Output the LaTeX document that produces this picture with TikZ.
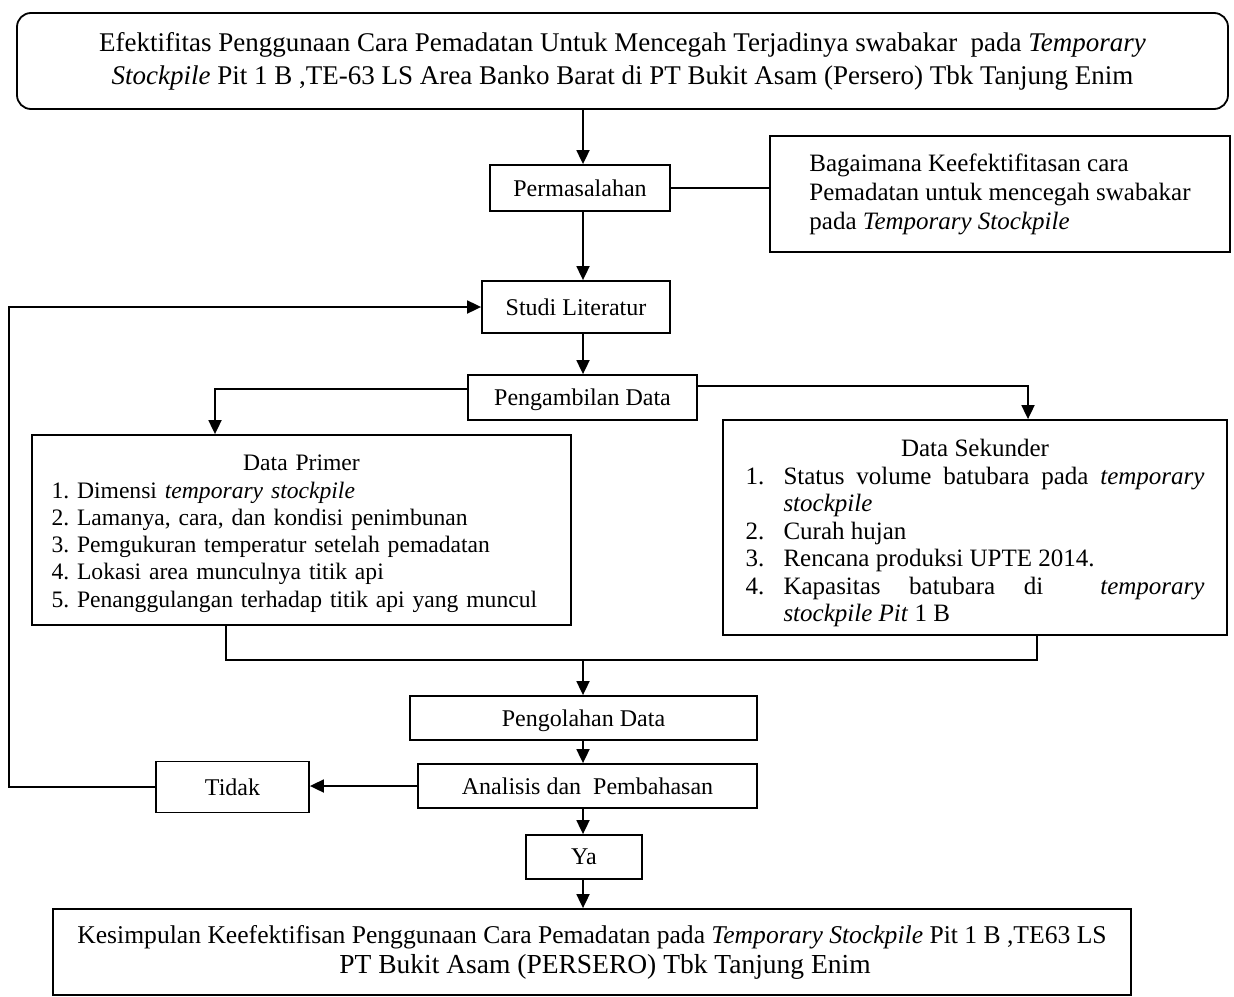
\documentclass[tikz,border=0pt]{standalone}
\usepackage{fontspec}
\setmainfont{Liberation Serif}
\usetikzlibrary{arrows.meta,positioning}
\frenchspacing

\newcommand{\butir}[1]{\par\hangindent=38pt\hangafter=1\noindent\makebox[38pt][l]{#1}}

\tikzset{
  box/.style={draw, line width=1.8pt, inner sep=0pt, font=\fontsize{24}{27.5}\selectfont},
  arr/.style={line width=1.8pt, -{Triangle[length=14pt,width=13pt]}},
  link/.style={line width=1.8pt},
}

\begin{document}
\begin{tikzpicture}[x=1pt,y=-1pt]
\useasboundingbox (0,0) rectangle (1234,996);
\fill[white] (0,0) rectangle (1234,996);

% boxes
\node[box, rounded corners=14pt, minimum width=1211pt, minimum height=96pt, align=center,
      font=\fontsize{27}{33}\selectfont] (judul) at (622.5,61)
  {Efektifitas Penggunaan Cara Pemadatan Untuk Mencegah Terjadinya swabakar\ \ pada \textit{Temporary}\\
   \textit{Stockpile} Pit 1 B ,TE-63 LS Area Banko Barat di PT Bukit Asam (Persero) Tbk Tanjung Enim};
\node[box, minimum width=180pt, minimum height=46pt] (masalah) at (580,188) {Permasalahan};
\node[box, minimum width=460pt, minimum height=116pt, align=left,
      font=\fontsize{25}{29}\selectfont] (tanya) at (1000,194)
  {Bagaimana Keefektifitasan cara\\
   Pemadatan untuk mencegah swabakar\\
   pada \textit{Temporary Stockpile}};
\node[box, minimum width=188pt, minimum height=52pt] (studi) at (576,307) {Studi Literatur};
\node[box, minimum width=229pt, minimum height=45pt, text depth=0pt] (ambil) at (582.5,397.5) {Pengambilan Data};
\node[box, minimum width=539pt, minimum height=190pt, text width=500pt, align=left,
      font=\fontsize{23.6}{27.3}\selectfont] (primer) at (301.5,530)
  {{\centering\rule{0pt}{23pt}Data Primer\par}
   1. Dimensi \textit{temporary stockpile}\\
   2. Lamanya, cara, dan kondisi penimbunan\\
   3. Pemgukuran temperatur setelah pemadatan\\
   4. Lokasi area munculnya titik api\\
   5. Penanggulangan terhadap titik api yang muncul};
\node[box, minimum width=504pt, minimum height=215pt, text width=459pt, align=justify,
      font=\fontsize{25}{27.5}\selectfont] (sekunder) at (975,527.5)
  {{\centering\rule{0pt}{29pt}Data Sekunder\par}
   \butir{1.}Status volume batubara pada \textit{temporary}\linebreak \textit{stockpile}
   \butir{2.}Curah hujan
   \butir{3.}Rencana produksi UPTE 2014.
   \butir{4.}Kapasitas batubara di\ \ \textit{temporary}\linebreak \textit{stockpile Pit} 1 B\par};
\node[box, minimum width=347pt, minimum height=44pt, text depth=0pt] (olah) at (583.5,718) {Pengolahan Data};
\node[box, minimum width=339pt, minimum height=44pt] (analisis) at (587.5,786) {Analisis dan\ \ Pembahasan};
\node[box, minimum width=153pt, minimum height=51pt] (tidak) at (232.5,787) {Tidak};
\node[box, minimum width=116pt, minimum height=44pt, text depth=0pt] (ya) at (584,857) {Ya};
\node[box, minimum width=1078pt, minimum height=86pt, align=center,
      font=\fontsize{27.5}{30}\selectfont] (simpul) at (592,952)
  {{\fontsize{25.6}{30}\selectfont Kesimpulan Keefektifisan Penggunaan Cara Pemadatan pada \textit{Temporary Stockpile} Pit 1 B ,TE63 LS}\\
   \hspace*{26pt}PT Bukit Asam (PERSERO) Tbk Tanjung Enim};

% connectors
\coordinate (sumbu) at (583,0);
\coordinate (kiri) at (215,389);
\coordinate (kanan) at (1028,386);
\coordinate (gabungL) at (226,660);
\coordinate (gabungR) at (1037,660);
\coordinate (balik) at (9,0);
\draw[arr] (judul.south -| sumbu) -- (masalah.north -| sumbu);
\draw[link] (masalah.east) -- (masalah.east -| tanya.west);
\draw[arr] (masalah.south -| sumbu) -- (studi.north -| sumbu);
\draw[arr] (studi.south -| sumbu) -- (ambil.north -| sumbu);
\draw[arr] (ambil.west |- kiri) -- (kiri) -- (kiri |- primer.north);
\draw[arr] (ambil.east |- kanan) -- (kanan) -- (kanan |- sekunder.north);
\draw[link] (gabungL |- primer.south) -- (gabungL) -- (gabungR) -- (gabungR |- sekunder.south);
\draw[arr] (sumbu |- gabungL) -- (sumbu |- olah.north);
\draw[arr] (olah.south -| sumbu) -- (analisis.north -| sumbu);
\draw[arr] (analisis.west) -- (analisis.west -| tidak.east);
\draw[arr] (tidak.west) -- (tidak.west -| balik) |- (studi.west);
\draw[arr] (analisis.south -| sumbu) -- (ya.north -| sumbu);
\draw[arr] (ya.south -| sumbu) -- (simpul.north -| sumbu);
\end{tikzpicture}
\end{document}
